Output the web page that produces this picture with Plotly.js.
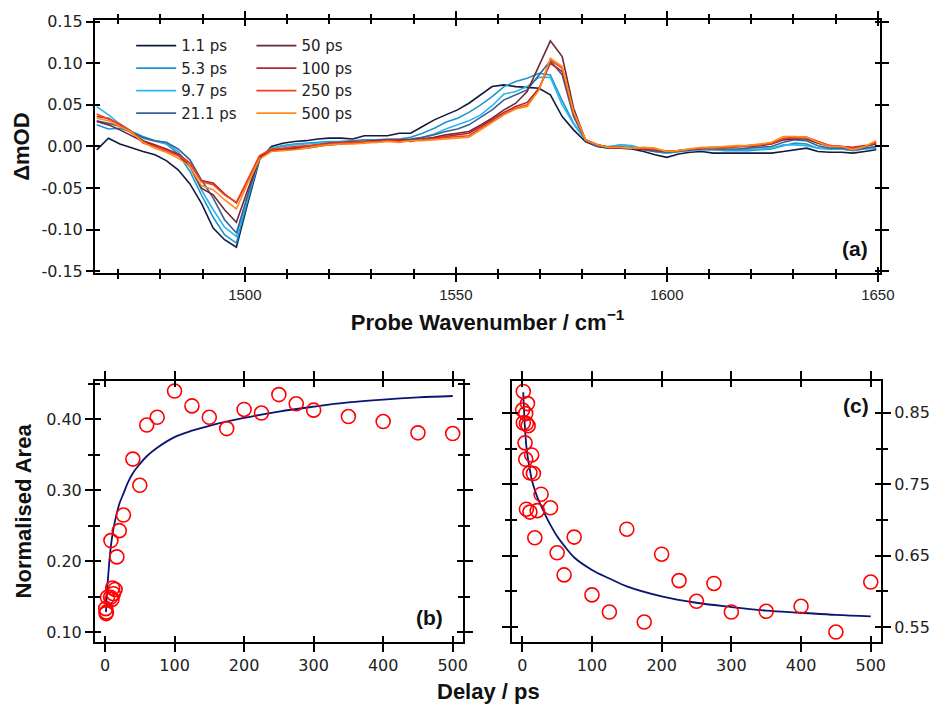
<!DOCTYPE html>
<html>
<head>
<meta charset="utf-8">
<script src="https://cdn.plot.ly/plotly-3.0.1.min.js"></script>
<style>html,body{margin:0;padding:0;background:#fff}#chart{width:934px;height:709px}</style>
</head>
<body>
<div id="chart"></div>
<script>
// ---------- Panel (a): transient IR spectra ----------
var wavenumber = [1464.9,1467.7,1470.4,1473.2,1475.9,1478.7,1481.4,1484.2,1487.0,1489.7,1492.5,1495.2,1498.0,1500.7,1503.5,1506.3,1509.0,1511.8,1514.5,1517.3,1520.0,1522.8,1525.6,1528.3,1531.1,1533.8,1536.6,1539.3,1542.1,1544.9,1547.6,1550.4,1553.1,1555.9,1558.6,1561.4,1564.2,1566.9,1569.7,1572.4,1575.2,1577.9,1580.7,1583.5,1586.2,1589.0,1591.7,1594.5,1597.2,1600.0,1602.8,1605.5,1608.3,1611.0,1613.8,1616.5,1619.3,1622.1,1624.8,1627.6,1630.3,1633.1,1635.8,1638.6,1641.4,1644.1,1646.9,1649.6];

var d_1p1 = [-0.004,0.010,0.003,-0.002,-0.006,-0.010,-0.017,-0.028,-0.045,-0.068,-0.098,-0.112,-0.121,-0.068,-0.016,0.000,0.004,0.006,0.007,0.009,0.010,0.010,0.009,0.013,0.013,0.013,0.016,0.016,0.024,0.032,0.038,0.044,0.052,0.062,0.072,0.074,0.072,0.071,0.070,0.062,0.036,0.020,0.006,0.000,-0.002,-0.002,-0.003,-0.006,-0.010,-0.013,-0.009,-0.007,-0.006,-0.008,-0.008,-0.008,-0.008,-0.008,-0.008,-0.006,-0.004,-0.002,-0.006,-0.007,-0.007,-0.008,-0.006,-0.004];
var d_5p3 = [0.026,0.021,0.022,0.017,0.010,0.006,0.003,-0.009,-0.030,-0.058,-0.085,-0.106,-0.116,-0.064,-0.014,-0.002,0.001,0.003,0.004,0.005,0.006,0.006,0.007,0.008,0.008,0.009,0.009,0.011,0.016,0.022,0.029,0.034,0.041,0.050,0.060,0.072,0.078,0.082,0.088,0.086,0.055,0.028,0.008,0.001,-0.001,0.002,0.000,-0.003,-0.006,-0.008,-0.006,-0.005,-0.004,-0.004,-0.005,-0.005,-0.005,-0.004,-0.003,0.001,0.004,0.003,-0.002,-0.003,-0.003,-0.005,-0.003,-0.002];
var d_9p7 = [0.048,0.038,0.027,0.018,0.012,0.007,0.004,-0.006,-0.024,-0.052,-0.076,-0.097,-0.108,-0.060,-0.014,-0.002,0.000,0.002,0.003,0.004,0.005,0.006,0.006,0.006,0.006,0.007,0.006,0.008,0.011,0.015,0.021,0.026,0.031,0.038,0.049,0.063,0.066,0.072,0.083,0.083,0.050,0.027,0.008,0.001,0.000,0.002,0.001,-0.003,-0.006,-0.008,-0.006,-0.005,-0.004,-0.004,-0.004,-0.004,-0.004,-0.003,-0.002,0.002,0.002,0.001,-0.002,-0.003,-0.003,-0.004,-0.002,-0.001];
var d_21p1 = [0.031,0.028,0.024,0.017,0.011,0.007,0.005,-0.003,-0.016,-0.040,-0.062,-0.088,-0.104,-0.058,-0.013,-0.004,-0.003,-0.001,0.000,0.002,0.003,0.004,0.005,0.006,0.007,0.007,0.008,0.009,0.011,0.014,0.018,0.021,0.026,0.035,0.044,0.056,0.062,0.068,0.086,0.103,0.086,0.036,0.007,0.001,-0.001,-0.001,-0.002,-0.004,-0.006,-0.007,-0.006,-0.004,-0.003,-0.003,-0.003,-0.003,-0.002,-0.001,0.000,0.005,0.008,0.007,0.001,-0.002,-0.002,-0.004,-0.002,0.000];
var d_50 = [0.030,0.026,0.020,0.013,0.006,0.001,-0.003,-0.010,-0.024,-0.050,-0.058,-0.076,-0.091,-0.052,-0.014,-0.005,-0.004,-0.003,-0.002,0.000,0.002,0.003,0.004,0.005,0.006,0.007,0.007,0.008,0.009,0.011,0.014,0.016,0.018,0.026,0.034,0.044,0.052,0.066,0.096,0.127,0.108,0.046,0.008,0.002,-0.001,-0.001,-0.002,-0.003,-0.004,-0.006,-0.005,-0.004,-0.002,-0.001,-0.001,0.000,0.000,0.001,0.003,0.008,0.009,0.009,0.004,0.000,0.000,-0.002,0.000,0.003];
var d_100 = [0.036,0.034,0.026,0.016,0.007,0.002,-0.003,-0.009,-0.020,-0.041,-0.044,-0.057,-0.068,-0.040,-0.012,-0.004,-0.003,-0.001,0.000,0.002,0.004,0.005,0.006,0.006,0.007,0.008,0.008,0.006,0.009,0.010,0.012,0.014,0.016,0.024,0.032,0.041,0.048,0.053,0.070,0.100,0.090,0.040,0.008,0.002,-0.001,-0.001,-0.002,-0.003,-0.004,-0.006,-0.005,-0.004,-0.002,-0.002,-0.001,0.000,0.001,0.002,0.004,0.009,0.011,0.011,0.006,0.001,0.000,-0.001,0.001,0.004];
var d_250 = [0.039,0.033,0.027,0.018,0.004,0.000,-0.005,-0.011,-0.020,-0.042,-0.046,-0.058,-0.067,-0.040,-0.011,-0.003,-0.002,0.000,0.001,0.002,0.003,0.004,0.005,0.006,0.005,0.007,0.006,0.007,0.008,0.009,0.011,0.012,0.013,0.022,0.030,0.039,0.046,0.050,0.068,0.104,0.094,0.041,0.008,0.002,-0.001,-0.001,-0.002,-0.002,-0.003,-0.006,-0.005,-0.003,-0.002,-0.002,-0.001,0.000,0.001,0.002,0.004,0.010,0.011,0.011,0.006,0.001,0.000,-0.002,0.000,0.005];
var d_500 = [0.034,0.031,0.024,0.017,0.005,-0.002,-0.007,-0.014,-0.024,-0.047,-0.052,-0.064,-0.075,-0.044,-0.015,-0.006,-0.005,-0.004,-0.002,0.000,0.002,0.003,0.003,0.004,0.005,0.006,0.005,0.007,0.007,0.008,0.009,0.010,0.011,0.020,0.029,0.038,0.045,0.048,0.068,0.106,0.096,0.042,0.008,0.002,-0.001,-0.001,-0.002,-0.001,-0.002,-0.006,-0.005,-0.003,-0.001,-0.001,0.000,0.001,0.001,0.003,0.005,0.012,0.012,0.011,0.005,0.000,0.000,-0.004,0.000,0.007];

var seriesNames = ['1.1 ps','5.3 ps','9.7 ps','21.1 ps','50 ps','100 ps','250 ps','500 ps'];
var seriesData = [d_1p1, d_5p3, d_9p7, d_21p1, d_50, d_100, d_250, d_500];
var seriesColors = ['#101b3e','#1e95d2','#2cb6ee','#3c6193','#6e2833','#b2262c','#f4401d','#ff8b1c'];

var yTickVals = [-0.15,-0.10,-0.05,0.00,0.05,0.10,0.15];
var yTickText = ['-0.15','-0.10','-0.05','0.00','0.05','0.10','0.15'];

// ---------- Panel (b): normalised area rise ----------
var delayB = [1,2,1.5,3.5,8,10,11,12,14.5,8.5,17,20.5,26.5,40,50,60,75,100,125,150,175,200,225,250,275,300,350,400,450,500];
var areaB  = [0.133,0.128,0.126,0.149,0.149,0.146,0.162,0.154,0.160,0.229,0.206,0.243,0.265,0.344,0.307,0.392,0.403,0.440,0.419,0.403,0.387,0.414,0.409,0.435,0.422,0.413,0.404,0.397,0.381,0.380];
var fitDelayB = [1.4,3,4.8,7,9.6,13,16.8,21,26.4,33,40,50,60,75,100,125,150,200,250,300,350,400,450,500];
var fitAreaB  = [0.128,0.160,0.182,0.208,0.230,0.250,0.267,0.282,0.295,0.311,0.324,0.337,0.348,0.360,0.375,0.384,0.391,0.402,0.411,0.418,0.424,0.428,0.431,0.433];

// ---------- Panel (c): normalised area decay ----------
var delayC = [1.5,7.5,0.5,5,1.5,6,8.5,4,13.5,5,11,16,27,40.5,6,11,21.5,18,74.5,50,60,100,125,150,175,200,225,250,275,300,350,400,450,500];
var areaC  = [0.880,0.863,0.854,0.849,0.836,0.835,0.832,0.808,0.791,0.785,0.766,0.765,0.736,0.717,0.715,0.711,0.713,0.675,0.676,0.654,0.623,0.595,0.571,0.687,0.557,0.652,0.615,0.586,0.611,0.571,0.572,0.579,0.543,0.613];
var fitDelayC = [1.4,3.8,6,8.5,11,14,18,22,27,34,41,50,60,75,100,125,150,200,250,300,350,400,450,500];
var fitAreaC  = [0.879,0.830,0.802,0.784,0.770,0.755,0.742,0.731,0.720,0.705,0.692,0.677,0.664,0.647,0.630,0.618,0.607,0.593,0.584,0.578,0.573,0.570,0.567,0.565];

var traces = [];
for (var i = 0; i < seriesNames.length; i++) {
  traces.push({
    x: wavenumber, y: seriesData[i], type: 'scatter', mode: 'lines',
    name: seriesNames[i], line: {color: seriesColors[i], width: 1.6},
    xaxis: 'x', yaxis: 'y', legend: i < 4 ? 'legend' : 'legend2'
  });
}
traces.push({x: fitDelayB, y: fitAreaB, type: 'scatter', mode: 'lines', line: {color: '#0b1470', width: 1.8, shape: 'spline'}, xaxis: 'x2', yaxis: 'y2', showlegend: false});
traces.push({x: delayB, y: areaB, type: 'scatter', mode: 'markers', marker: {symbol: 'circle-open', size: 14, color: '#ff0000', line: {width: 1.6, color: '#ff0000'}}, xaxis: 'x2', yaxis: 'y2', showlegend: false});
traces.push({x: fitDelayC, y: fitAreaC, type: 'scatter', mode: 'lines', line: {color: '#0b1470', width: 1.8, shape: 'spline'}, xaxis: 'x3', yaxis: 'y3', showlegend: false});
traces.push({x: delayC, y: areaC, type: 'scatter', mode: 'markers', marker: {symbol: 'circle-open', size: 14, color: '#ff0000', line: {width: 1.6, color: '#ff0000'}}, xaxis: 'x3', yaxis: 'y3', showlegend: false});
// empty traces carrying the inside-tick overlay axes
traces.push({x: [], y: [], xaxis: 'x4', yaxis: 'y4', showlegend: false, hoverinfo: 'skip'});
traces.push({x: [], y: [], xaxis: 'x5', yaxis: 'y5', showlegend: false, hoverinfo: 'skip'});
traces.push({x: [], y: [], xaxis: 'x6', yaxis: 'y6', showlegend: false, hoverinfo: 'skip'});

var tickFont = {family: 'DejaVu Sans, Liberation Sans, sans-serif', size: 16, color: '#222'};
var narrowFont = {family: 'Liberation Sans Narrow, Arial Narrow, Liberation Sans, sans-serif', size: 15, color: '#222'};
var boldFont = function (sz) { return {family: 'Liberation Sans, Arial, sans-serif', size: sz, weight: 'bold', color: '#111'}; };
var legendFont = {family: 'DejaVu Sans, Liberation Sans, sans-serif', size: 15, color: '#222'};

function base(extra) {
  var o = {showgrid: false, zeroline: false, showline: true, linecolor: '#000', linewidth: 2,
           ticks: 'outside', tickcolor: '#000', tickwidth: 2, mirror: 'ticks', fixedrange: true};
  for (var k in extra) o[k] = extra[k];
  return o;
}
function merge(a, b) { var o = {}; for (var k in a) o[k] = a[k]; for (var k2 in b) o[k2] = b[k2]; return o; }

var xTop = {range: [1464.5, 1650.5], domain: [0, 0.9987], anchor: 'y', tickmode: 'linear', tick0: 1500, dtick: 50};
var yTop = {range: [-0.1522, 0.152], domain: [0.593, 1], anchor: 'x', tickmode: 'array', tickvals: yTickVals};
var xB = {range: [-14.4, 514.8], domain: [0, 0.4682], anchor: 'y2', tickmode: 'linear', tick0: 0, dtick: 100};
var yB = {range: [0.0859, 0.4545], domain: [0, 0.42], anchor: 'x2', tickmode: 'linear', tick0: 0.1, dtick: 0.1};
var xC = {range: [-14.3, 514.7], domain: [0.5309, 1], anchor: 'y3', tickmode: 'linear', tick0: 0, dtick: 100};
var yC = {range: [0.529, 0.895], domain: [0, 0.42], anchor: 'x3', tickmode: 'linear', tick0: 0.55, dtick: 0.1};

var legendCommon = {xanchor: 'left', yanchor: 'top', bgcolor: 'rgba(0,0,0,0)', borderwidth: 0,
                    font: legendFont, tracegroupgap: 0, itemwidth: 40};

var layout = {
  width: 934, height: 709,
  margin: {l: 95, r: 53, t: 20, b: 67, autoexpand: false},
  paper_bgcolor: '#fff', plot_bgcolor: '#fff',
  font: {family: 'Liberation Sans, Arial, sans-serif', color: '#222'},
  showlegend: true,
  legend: merge(legendCommon, {x: 0.046, y: 0.985}),
  legend2: merge(legendCommon, {x: 0.199, y: 0.985}),
  xaxis: base(merge(xTop, {ticklen: 7, tickfont: narrowFont,
      minor: {tickmode: 'linear', tick0: 1460, dtick: 10, ticks: 'outside', ticklen: 4, tickwidth: 2, tickcolor: '#000'},
      title: {text: 'Probe Wavenumber / cm<sup>−1</sup>', standoff: 12,
              font: {family: 'Liberation Sans Narrow, Arial Narrow, Liberation Sans, sans-serif', size: 22, weight: 'bold', color: '#111'}}})),
  yaxis: base(merge(yTop, {ticktext: yTickText, ticklen: 7, tickfont: tickFont,
      title: {text: 'ΔmOD', standoff: 6, font: boldFont(22)}})),
  xaxis4: base(merge(xTop, {overlaying: 'x', ticks: 'inside', ticklen: 6, showticklabels: false, showline: false,
      minor: {tickmode: 'linear', tick0: 1460, dtick: 10, ticks: 'inside', ticklen: 4, tickwidth: 2, tickcolor: '#000'}})),
  yaxis4: base(merge(yTop, {overlaying: 'y', ticks: 'inside', ticklen: 5, showticklabels: false, showline: false})),

  xaxis2: base(merge(xB, {ticklen: 8, tickfont: tickFont})),
  yaxis2: base(merge(yB, {ticklen: 8, tickformat: '.2f', tickfont: tickFont,
      minor: {tickmode: 'linear', tick0: 0.15, dtick: 0.1, ticks: 'outside', ticklen: 5, tickwidth: 2, tickcolor: '#000'},
      title: {text: 'Normalised Area', standoff: 8, font: boldFont(22)}})),
  xaxis5: base(merge(xB, {overlaying: 'x2', ticks: 'inside', ticklen: 6, showticklabels: false, showline: false})),
  yaxis5: base(merge(yB, {overlaying: 'y2', ticks: 'inside', ticklen: 6, showticklabels: false, showline: false,
      minor: {tickmode: 'linear', tick0: 0.15, dtick: 0.1, ticks: 'inside', ticklen: 5, tickwidth: 2, tickcolor: '#000'}})),

  xaxis3: base(merge(xC, {ticklen: 8, tickfont: tickFont})),
  yaxis3: base(merge(yC, {side: 'right', ticklen: 8, tickformat: '.2f', tickfont: tickFont,
      minor: {tickmode: 'linear', tick0: 0.6, dtick: 0.1, ticks: 'outside', ticklen: 5, tickwidth: 2, tickcolor: '#000'}})),
  xaxis6: base(merge(xC, {overlaying: 'x3', ticks: 'inside', ticklen: 6, showticklabels: false, showline: false})),
  yaxis6: base(merge(yC, {overlaying: 'y3', side: 'right', ticks: 'inside', ticklen: 6, showticklabels: false, showline: false,
      minor: {tickmode: 'linear', tick0: 0.6, dtick: 0.1, ticks: 'inside', ticklen: 5, tickwidth: 2, tickcolor: '#000'}})),

  annotations: [
    {text: '(a)', xref: 'paper', yref: 'paper', x: 0.967, y: 0.633, showarrow: false, xanchor: 'center', yanchor: 'middle', font: boldFont(21)},
    {text: '(b)', xref: 'paper', yref: 'paper', x: 0.426, y: 0.040, showarrow: false, xanchor: 'center', yanchor: 'middle', font: boldFont(21)},
    {text: '(c)', xref: 'paper', yref: 'paper', x: 0.9676, y: 0.380, showarrow: false, xanchor: 'center', yanchor: 'middle', font: boldFont(21)},
    {text: 'Delay / ps', xref: 'paper', yref: 'paper', x: 0.5, y: -0.080, showarrow: false, xanchor: 'center', yanchor: 'middle', font: boldFont(22)}
  ]
};

Plotly.newPlot('chart', traces, layout, {displayModeBar: false, staticPlot: true});
</script>
</body>
</html>
